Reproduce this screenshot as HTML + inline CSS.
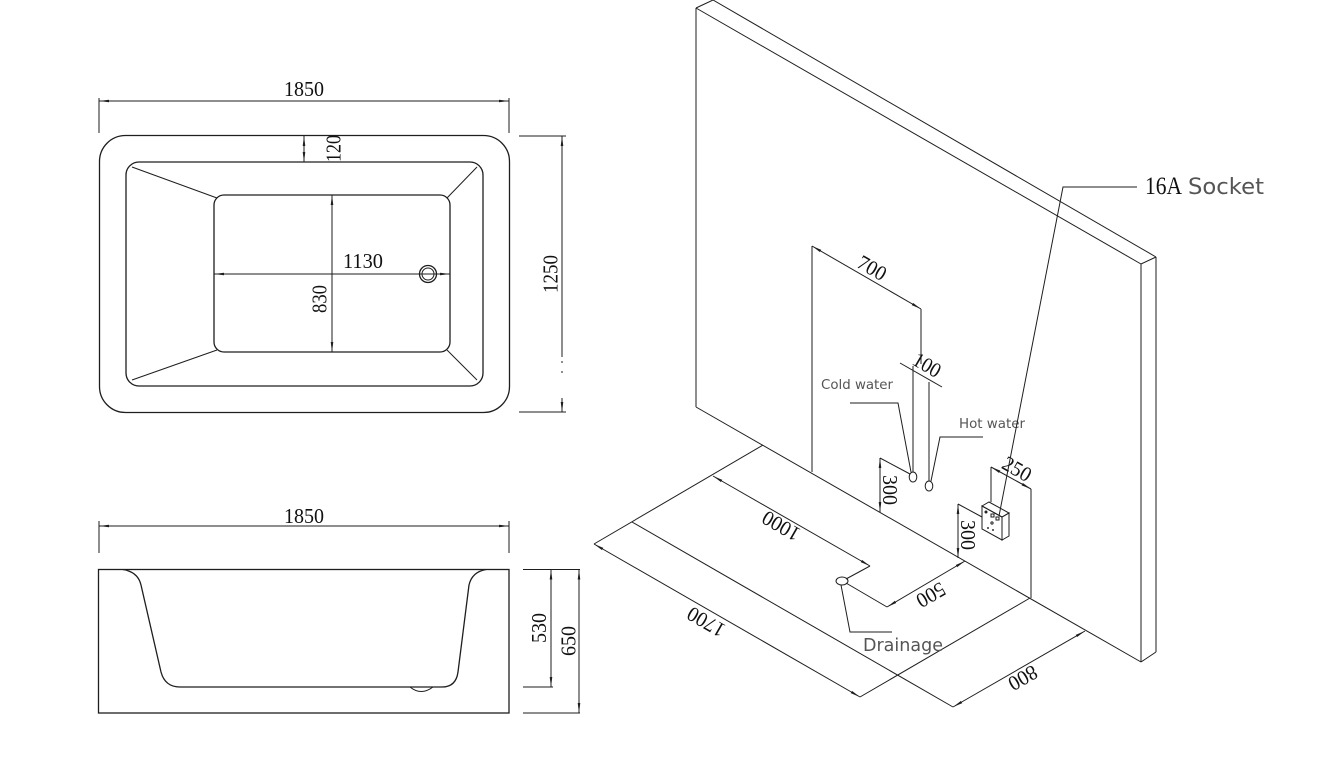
<!DOCTYPE html>
<html><head><meta charset="utf-8"><style>
html,body{margin:0;padding:0;background:#fff;}
svg{display:block;}
.l{stroke:#1e1e1e;stroke-width:1;fill:none;}
.o{stroke:#1e1e1e;stroke-width:1.3;fill:none;}
.d{font-family:"Liberation Serif",serif;font-size:21px;fill:#111;}
.s{font-family:"DejaVu Sans","Liberation Sans",sans-serif;fill:#555;}
</style></head><body>
<svg width="1335" height="760" viewBox="0 0 1335 760" xmlns="http://www.w3.org/2000/svg">
<defs>
<marker id="a" viewBox="0 0 10 4" refX="10" refY="2" markerWidth="10" markerHeight="4" markerUnits="userSpaceOnUse" orient="auto-start-reverse"><path d="M0,0.7 L10,2 L0,3.3z" fill="#1e1e1e"/></marker>
</defs>
<rect width="1335" height="760" fill="#fff"/>

<!-- ===== PLAN VIEW ===== -->
<line class="l" x1="99" y1="98" x2="99" y2="133"/>
<line class="l" x1="509" y1="98" x2="509" y2="133"/>
<line class="l" x1="99" y1="101" x2="509" y2="101" marker-start="url(#a)" marker-end="url(#a)"/>
<text class="d" x="304" y="96" text-anchor="middle" textLength="40" lengthAdjust="spacingAndGlyphs">1850</text>

<rect class="o" x="99.5" y="135.5" width="410" height="277" rx="26"/>
<rect class="o" x="126" y="162" width="357" height="224" rx="13"/>
<rect class="o" x="214" y="195" width="236" height="157" rx="10"/>
<line class="l" x1="132" y1="167" x2="217" y2="198"/>
<line class="l" x1="477" y1="167" x2="447" y2="198"/>
<line class="l" x1="132" y1="380" x2="217" y2="350"/>
<line class="l" x1="477" y1="380" x2="447" y2="350"/>

<line class="l" x1="304" y1="136" x2="304" y2="162" marker-start="url(#a)" marker-end="url(#a)"/>
<text class="d" transform="translate(333.5,148.5) rotate(-90)" text-anchor="middle" dominant-baseline="central" textLength="27" lengthAdjust="spacingAndGlyphs">120</text>

<line class="l" x1="332" y1="195" x2="332" y2="352" marker-start="url(#a)" marker-end="url(#a)"/>
<text class="d" transform="translate(319.5,299) rotate(-90)" text-anchor="middle" dominant-baseline="central" textLength="28" lengthAdjust="spacingAndGlyphs">830</text>

<line class="l" x1="214" y1="274" x2="450" y2="274" marker-start="url(#a)" marker-end="url(#a)"/>
<text class="d" x="363" y="268" text-anchor="middle" textLength="40" lengthAdjust="spacingAndGlyphs">1130</text>
<circle class="o" cx="428" cy="274" r="8.5"/>
<circle class="l" cx="428" cy="274" r="6"/>

<line class="l" x1="519" y1="136" x2="566" y2="136"/>
<line class="l" x1="519" y1="412" x2="566" y2="412"/>
<line class="l" x1="562" y1="136" x2="562" y2="357" marker-start="url(#a)"/>
<line class="l" x1="562" y1="361" x2="562" y2="363"/>
<line class="l" x1="562" y1="371" x2="562" y2="373"/>
<line class="l" x1="562" y1="398" x2="562" y2="412" marker-end="url(#a)"/>
<text class="d" transform="translate(550.5,274) rotate(-90)" text-anchor="middle" dominant-baseline="central" textLength="38" lengthAdjust="spacingAndGlyphs">1250</text>

<!-- ===== SIDE VIEW ===== -->
<line class="l" x1="99" y1="521" x2="99" y2="553"/>
<line class="l" x1="509" y1="521" x2="509" y2="553"/>
<line class="l" x1="99" y1="526" x2="509" y2="526" marker-start="url(#a)" marker-end="url(#a)"/>
<text class="d" x="304" y="523" text-anchor="middle" textLength="40" lengthAdjust="spacingAndGlyphs">1850</text>

<rect class="o" x="98.5" y="569.5" width="410.5" height="143.5"/>
<path class="o" d="M123,569.5 Q138,572 141,585 L161,672 Q165,687 180,687 L442,687 Q456,687 458,672 L469,585 Q472,572 486,569.5"/>
<path class="l" d="M410,687 Q421,696 433,687"/>

<line class="l" x1="523" y1="569.5" x2="580" y2="569.5"/>
<line class="l" x1="523" y1="687" x2="553" y2="687"/>
<line class="l" x1="523" y1="713" x2="580" y2="713"/>
<line class="l" x1="551" y1="569.5" x2="551" y2="687" marker-start="url(#a)" marker-end="url(#a)"/>
<line class="l" x1="579" y1="569.5" x2="579" y2="713" marker-start="url(#a)" marker-end="url(#a)"/>
<text class="d" transform="translate(539,628) rotate(-90)" text-anchor="middle" dominant-baseline="central" textLength="30" lengthAdjust="spacingAndGlyphs">530</text>
<text class="d" transform="translate(568.5,641) rotate(-90)" text-anchor="middle" dominant-baseline="central" textLength="30" lengthAdjust="spacingAndGlyphs">650</text>

<!-- ===== ISOMETRIC WALL ===== -->
<line class="l" x1="713" y1="0" x2="1156" y2="257"/>
<line class="l" x1="696" y1="8" x2="1141" y2="264"/>
<line class="l" x1="696" y1="8" x2="713" y2="0"/>
<line class="l" x1="1141" y1="264" x2="1156" y2="257"/>
<line class="l" x1="696" y1="8" x2="696" y2="407"/>
<line class="l" x1="1141" y1="264" x2="1141" y2="662"/>
<line class="l" x1="1156" y1="257" x2="1156" y2="652"/>
<line class="l" x1="1141" y1="662" x2="1156" y2="652"/>
<line class="l" x1="696" y1="407" x2="1141" y2="662"/>

<!-- floor -->
<line class="l" x1="763" y1="445" x2="594" y2="544"/>
<line class="l" x1="594" y1="544" x2="860" y2="697" marker-start="url(#a)" marker-end="url(#a)"/>
<text class="d" transform="translate(706,622) rotate(210)" text-anchor="middle" dominant-baseline="central" textLength="40" lengthAdjust="spacingAndGlyphs">1700</text>
<line class="l" x1="632" y1="522" x2="953" y2="707"/>
<line class="l" x1="860" y1="697" x2="1030" y2="598"/>
<line class="l" x1="953" y1="707" x2="1085" y2="631" marker-start="url(#a)" marker-end="url(#a)"/>
<text class="d" transform="translate(1023,678) rotate(150)" text-anchor="middle" dominant-baseline="central" textLength="30" lengthAdjust="spacingAndGlyphs">800</text>

<line class="l" x1="713" y1="476" x2="870" y2="566" marker-start="url(#a)" marker-end="url(#a)"/>
<text class="d" transform="translate(781,526) rotate(210)" text-anchor="middle" dominant-baseline="central" textLength="40" lengthAdjust="spacingAndGlyphs">1000</text>
<line class="l" x1="870" y1="566" x2="846" y2="579"/>
<ellipse class="l" cx="842" cy="581" rx="6" ry="4"/>
<line class="l" x1="846" y1="583" x2="887" y2="607"/>
<line class="l" x1="887" y1="607" x2="965" y2="561" marker-start="url(#a)" marker-end="url(#a)"/>
<text class="d" transform="translate(931,595) rotate(150)" text-anchor="middle" dominant-baseline="central" textLength="30" lengthAdjust="spacingAndGlyphs">500</text>
<polyline class="l" points="841,585 850,632 892,632"/>
<text class="s" x="863" y="651" font-size="17.5" textLength="80" lengthAdjust="spacingAndGlyphs">Drainage</text>

<!-- wall dims -->
<line class="l" x1="812" y1="246" x2="812" y2="472"/>
<line class="l" x1="812" y1="246" x2="921" y2="309" marker-start="url(#a)" marker-end="url(#a)"/>
<text class="d" transform="translate(872,268) rotate(30)" text-anchor="middle" dominant-baseline="central" textLength="30" lengthAdjust="spacingAndGlyphs">700</text>
<line class="l" x1="921" y1="309" x2="921" y2="364"/>
<line class="l" x1="900" y1="363" x2="942" y2="387"/>
<text class="d" transform="translate(927,365) rotate(30)" text-anchor="middle" dominant-baseline="central" textLength="29" lengthAdjust="spacingAndGlyphs">100</text>
<line class="l" x1="913" y1="366" x2="913" y2="472"/>
<line class="l" x1="929" y1="382" x2="929" y2="481"/>

<ellipse class="l" cx="913" cy="477" rx="3.8" ry="5"/>
<ellipse class="l" cx="929" cy="486" rx="3.8" ry="5"/>
<polyline class="l" points="850,403 898,403 911,472"/>
<text class="s" x="821" y="389" font-size="13.4" textLength="72" lengthAdjust="spacingAndGlyphs">Cold water</text>
<polyline class="l" points="983,437 940,437 931,481"/>
<text class="s" x="959" y="428" font-size="13.4" textLength="66" lengthAdjust="spacingAndGlyphs">Hot water</text>

<line class="l" x1="880" y1="458" x2="910" y2="474"/>
<line class="l" x1="880" y1="458" x2="880" y2="512" marker-start="url(#a)" marker-end="url(#a)"/>
<text class="d" transform="translate(890,490) rotate(90)" text-anchor="middle" dominant-baseline="central" textLength="30" lengthAdjust="spacingAndGlyphs">300</text>

<line class="l" x1="958" y1="504" x2="982" y2="517"/>
<line class="l" x1="958" y1="504" x2="958" y2="558" marker-start="url(#a)" marker-end="url(#a)"/>
<text class="d" transform="translate(968,535) rotate(90)" text-anchor="middle" dominant-baseline="central" textLength="30" lengthAdjust="spacingAndGlyphs">300</text>

<line class="l" x1="991" y1="467" x2="991" y2="502"/>
<line class="l" x1="991" y1="467" x2="1031" y2="489" marker-start="url(#a)" marker-end="url(#a)"/>
<line class="l" x1="1031" y1="489" x2="1031" y2="598"/>
<text class="d" transform="translate(1017,469) rotate(30)" text-anchor="middle" dominant-baseline="central" textLength="30" lengthAdjust="spacingAndGlyphs">250</text>

<!-- socket -->
<path class="l" fill="#fff" d="M982,506 L989,502 L1009,513 L1002,517 Z"/>
<path class="l" fill="#fff" d="M982,506 L1002,517 L1002,540 L982,529 Z"/>
<path class="l" fill="#fff" d="M1002,517 L1009,513 L1009,536 L1002,540 Z"/>
<circle cx="986" cy="512" r="1.5" fill="#222"/>
<rect x="991" y="514" width="3" height="3" class="l" stroke-width="0.8"/>
<rect x="996" y="517" width="3" height="3" class="l" stroke-width="0.8"/>
<circle cx="992" cy="523" r="1.1" class="l" stroke-width="0.8"/>
<circle cx="988" cy="528" r="1" fill="#333"/>
<circle cx="993" cy="530" r="1" fill="#333"/>

<polyline class="l" points="999,516 1063,187 1137,187"/>
<text x="1145" y="194" font-family="Liberation Serif,serif" font-size="25" fill="#111" textLength="37" lengthAdjust="spacingAndGlyphs">16A</text>
<text class="s" x="1188" y="194" font-size="22.5" fill="#444" textLength="76" lengthAdjust="spacingAndGlyphs">Socket</text>
</svg>
</body></html>
